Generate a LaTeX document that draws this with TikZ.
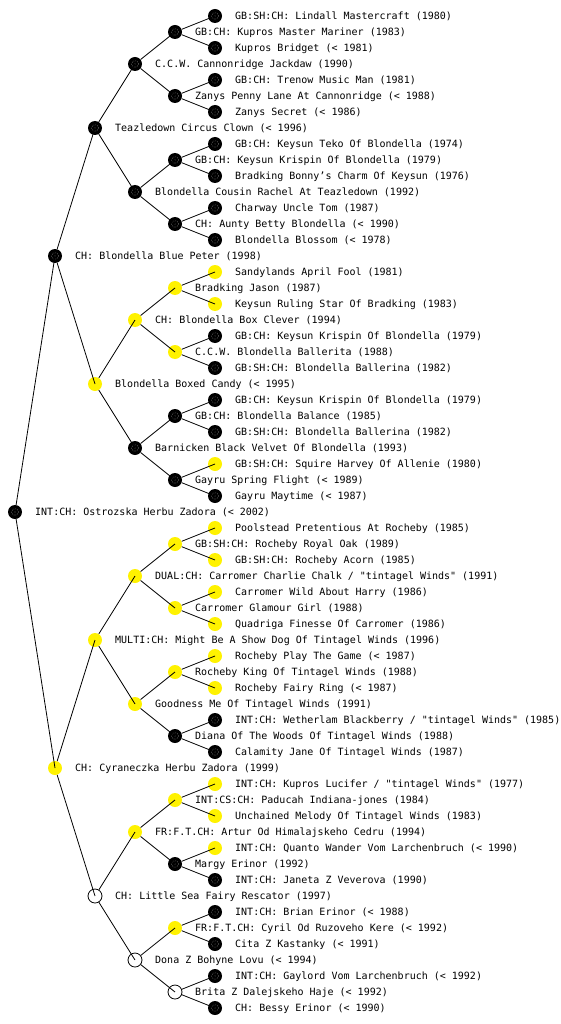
\documentclass[tikz,border=0pt]{standalone}
\usepackage{fontspec}
\newfontfamily\pedfont{DejaVu Sans Mono}
\tikzset{
  pnode/.style={circle, minimum size=14pt, inner sep=0pt},
  blk/.style={pnode, fill=black,
    path picture={\draw[white, line width=0.45pt, dash pattern=on 0.45pt off 1.6pt]
      (path picture bounding box.center) circle (3.4pt);
      \fill[white] (path picture bounding box.center) circle (0.35pt);}},
  ylw/.style={pnode, fill=yellow},
  wht/.style={pnode, fill=white, draw=black, line width=0.8pt},
  lbl/.style={anchor=west, inner sep=0pt, text height=7.3pt, text depth=0pt, font=\pedfont\fontsize{10pt}{12pt}\selectfont},
  edge/.style={draw=black, line width=0.8pt}
}
\newcommand\ped[4]{%
  \node[#1] (n#2) at ({15+40*#3},{16*#2}) {};
  \node[lbl] (t#2) at ({35+40*#3},{16*#2}) {#4};}
\begin{document}
\begin{tikzpicture}[x=1pt,y=-1pt]
\useasboundingbox (0,0) rectangle (560,1024);
\fill[white] (0,0) rectangle (560,1024);
\ped{blk}{1}{5}{GB:SH:CH: Lindall Mastercraft (1980)}
\ped{blk}{2}{4}{GB:CH: Kupros Master Mariner (1983)}
\ped{blk}{3}{5}{Kupros Bridget (< 1981)}
\ped{blk}{4}{3}{C.C.W. Cannonridge Jackdaw (1990)}
\ped{blk}{5}{5}{GB:CH: Trenow Music Man (1981)}
\ped{blk}{6}{4}{Zanys Penny Lane At Cannonridge (< 1988)}
\ped{blk}{7}{5}{Zanys Secret (< 1986)}
\ped{blk}{8}{2}{Teazledown Circus Clown (< 1996)}
\ped{blk}{9}{5}{GB:CH: Keysun Teko Of Blondella (1974)}
\ped{blk}{10}{4}{GB:CH: Keysun Krispin Of Blondella (1979)}
\ped{blk}{11}{5}{Bradking Bonny’s Charm Of Keysun (1976)}
\ped{blk}{12}{3}{Blondella Cousin Rachel At Teazledown (1992)}
\ped{blk}{13}{5}{Charway Uncle Tom (1987)}
\ped{blk}{14}{4}{CH: Aunty Betty Blondella (< 1990)}
\ped{blk}{15}{5}{Blondella Blossom (< 1978)}
\ped{blk}{16}{1}{CH: Blondella Blue Peter (1998)}
\ped{ylw}{17}{5}{Sandylands April Fool (1981)}
\ped{ylw}{18}{4}{Bradking Jason (1987)}
\ped{ylw}{19}{5}{Keysun Ruling Star Of Bradking (1983)}
\ped{ylw}{20}{3}{CH: Blondella Box Clever (1994)}
\ped{blk}{21}{5}{GB:CH: Keysun Krispin Of Blondella (1979)}
\ped{ylw}{22}{4}{C.C.W. Blondella Ballerita (1988)}
\ped{blk}{23}{5}{GB:SH:CH: Blondella Ballerina (1982)}
\ped{ylw}{24}{2}{Blondella Boxed Candy (< 1995)}
\ped{blk}{25}{5}{GB:CH: Keysun Krispin Of Blondella (1979)}
\ped{blk}{26}{4}{GB:CH: Blondella Balance (1985)}
\ped{blk}{27}{5}{GB:SH:CH: Blondella Ballerina (1982)}
\ped{blk}{28}{3}{Barnicken Black Velvet Of Blondella (1993)}
\ped{ylw}{29}{5}{GB:SH:CH: Squire Harvey Of Allenie (1980)}
\ped{blk}{30}{4}{Gayru Spring Flight (< 1989)}
\ped{blk}{31}{5}{Gayru Maytime (< 1987)}
\ped{blk}{32}{0}{INT:CH: Ostrozska Herbu Zadora (< 2002)}
\ped{ylw}{33}{5}{Poolstead Pretentious At Rocheby (1985)}
\ped{ylw}{34}{4}{GB:SH:CH: Rocheby Royal Oak (1989)}
\ped{ylw}{35}{5}{GB:SH:CH: Rocheby Acorn (1985)}
\ped{ylw}{36}{3}{DUAL:CH: Carromer Charlie Chalk / "tintagel Winds" (1991)}
\ped{ylw}{37}{5}{Carromer Wild About Harry (1986)}
\ped{ylw}{38}{4}{Carromer Glamour Girl (1988)}
\ped{ylw}{39}{5}{Quadriga Finesse Of Carromer (1986)}
\ped{ylw}{40}{2}{MULTI:CH: Might Be A Show Dog Of Tintagel Winds (1996)}
\ped{ylw}{41}{5}{Rocheby Play The Game (< 1987)}
\ped{ylw}{42}{4}{Rocheby King Of Tintagel Winds (1988)}
\ped{ylw}{43}{5}{Rocheby Fairy Ring (< 1987)}
\ped{ylw}{44}{3}{Goodness Me Of Tintagel Winds (1991)}
\ped{blk}{45}{5}{INT:CH: Wetherlam Blackberry / "tintagel Winds" (1985)}
\ped{blk}{46}{4}{Diana Of The Woods Of Tintagel Winds (1988)}
\ped{blk}{47}{5}{Calamity Jane Of Tintagel Winds (1987)}
\ped{ylw}{48}{1}{CH: Cyraneczka Herbu Zadora (1999)}
\ped{ylw}{49}{5}{INT:CH: Kupros Lucifer / "tintagel Winds" (1977)}
\ped{ylw}{50}{4}{INT:CS:CH: Paducah Indiana-jones (1984)}
\ped{ylw}{51}{5}{Unchained Melody Of Tintagel Winds (1983)}
\ped{ylw}{52}{3}{FR:F.T.CH: Artur Od Himalajskeho Cedru (1994)}
\ped{ylw}{53}{5}{INT:CH: Quanto Wander Vom Larchenbruch (< 1990)}
\ped{blk}{54}{4}{Margy Erinor (1992)}
\ped{blk}{55}{5}{INT:CH: Janeta Z Veverova (1990)}
\ped{wht}{56}{2}{CH: Little Sea Fairy Rescator (1997)}
\ped{blk}{57}{5}{INT:CH: Brian Erinor (< 1988)}
\ped{ylw}{58}{4}{FR:F.T.CH: Cyril Od Ruzoveho Kere (< 1992)}
\ped{blk}{59}{5}{Cita Z Kastanky (< 1991)}
\ped{wht}{60}{3}{Dona Z Bohyne Lovu (< 1994)}
\ped{blk}{61}{5}{INT:CH: Gaylord Vom Larchenbruch (< 1992)}
\ped{wht}{62}{4}{Brita Z Dalejskeho Haje (< 1992)}
\ped{blk}{63}{5}{CH: Bessy Erinor (< 1990)}
% edges: parent border -> child centre
\draw[edge] (n32) -- (n16.center);
\draw[edge] (n32) -- (n48.center);
\foreach \p in {16,48} {
  \pgfmathtruncatemacro\a{\p-8}\pgfmathtruncatemacro\b{\p+8}
  \draw[edge] (n\p) -- (n\a.center);
  \draw[edge] (n\p) -- (n\b.center);}
\foreach \p in {8,24,40,56} {
  \pgfmathtruncatemacro\a{\p-4}\pgfmathtruncatemacro\b{\p+4}
  \draw[edge] (n\p) -- (n\a.center);
  \draw[edge] (n\p) -- (n\b.center);}
\foreach \p in {4,12,...,60} {
  \pgfmathtruncatemacro\a{\p-2}\pgfmathtruncatemacro\b{\p+2}
  \draw[edge] (n\p) -- (n\a.center);
  \draw[edge] (n\p) -- (n\b.center);}
\foreach \p in {2,6,...,62} {
  \pgfmathtruncatemacro\a{\p-1}\pgfmathtruncatemacro\b{\p+1}
  \draw[edge] (n\p) -- (n\a.center);
  \draw[edge] (n\p) -- (n\b.center);}
\end{tikzpicture}
\end{document}
